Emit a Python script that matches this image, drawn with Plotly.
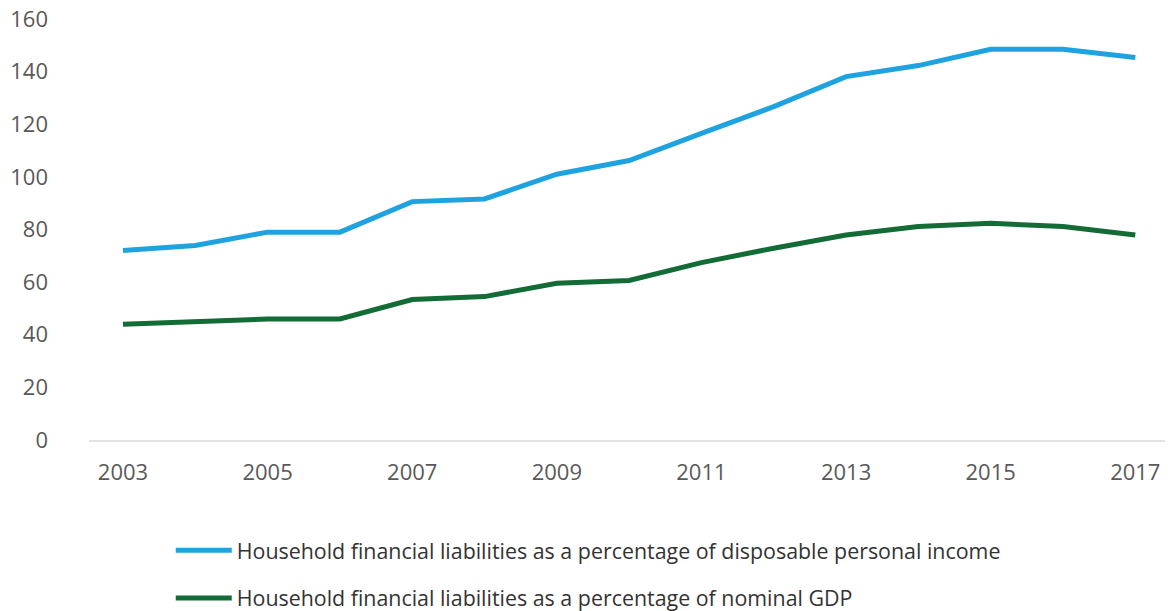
import plotly.graph_objects as go

years = list(range(2003, 2018))
income_pct = [72.0, 73.9, 79.0, 79.0, 90.6, 91.6, 101.0, 106.2, 116.5, 126.7, 138.1, 142.3, 148.5, 148.5, 145.4]
gdp_pct = [44.0, 45.0, 46.0, 46.0, 53.4, 54.5, 59.6, 60.6, 67.4, 72.9, 77.9, 81.1, 82.4, 81.1, 77.9]
x_ticks = [2003, 2005, 2007, 2009, 2011, 2013, 2015, 2017]
y_ticks = [0, 20, 40, 60, 80, 100, 120, 140, 160]
names = [
    "Household financial liabilities as a percentage of disposable personal income",
    "Household financial liabilities as a percentage of nominal GDP",
]
colors = ["#1fa3e0", "#136b35"]

fig = go.Figure()
for vals, name, col, grp in [(income_pct, names[0], colors[0], "a"), (gdp_pct, names[1], colors[1], "b")]:
    fig.add_trace(go.Scatter(x=years, y=vals, mode="lines", name=name, legendgroup=grp,
                             line=dict(color=col, width=5)))

fig.update_layout(
    width=1165, height=603,
    margin=dict(l=81, r=3, t=11, b=171, autoexpand=False),
    paper_bgcolor="white", plot_bgcolor="white",
    font=dict(family="Open Sans", color="#595959"),
    showlegend=True,
    legend=dict(xref="container", yref="container", x=0.1397, y=0.1347, xanchor="left", yanchor="top",
                font=dict(size=21.4, color="#333333"), tracegroupgap=17, itemwidth=56,
                bgcolor="rgba(0,0,0,0)"),
    xaxis=dict(range=[2002.53, 2017.48], tickvals=x_ticks, showgrid=False, zeroline=False,
               showline=True, linecolor="#e3e3e3", linewidth=1.5, ticks="", tickangle=0,
               tickfont=dict(size=22, color="#595959"), ticklabelstandoff=12, automargin=False,
               ticklabeloverflow="allow"),
    yaxis=dict(range=[0, 160], tickvals=y_ticks, showgrid=False, zeroline=False, showline=False,
               ticks="", tickfont=dict(size=22, color="#595959"), ticklabelstandoff=40, automargin=False,
               ticklabeloverflow="allow"),
)

fig.write_html("out.html")
